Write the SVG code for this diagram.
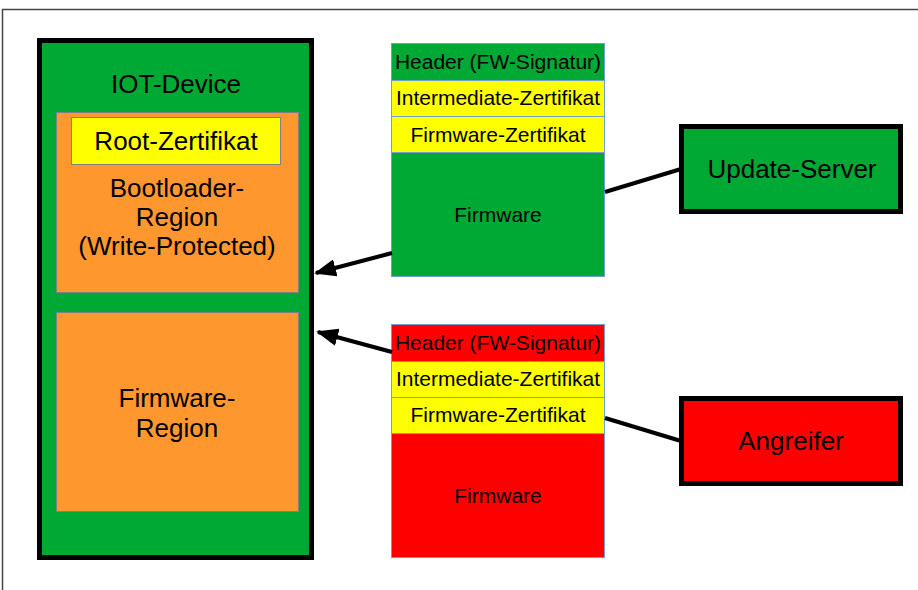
<svg xmlns="http://www.w3.org/2000/svg" width="918" height="590" viewBox="0 0 918 590">
<defs>
<style>
text{font-family:"Liberation Sans",Arial,sans-serif;fill:#000;text-anchor:middle}
.big{font-size:26px}
.mid{font-size:26px}
.sm{font-size:21px}
.frame{fill:none;stroke:#444;stroke-width:1.5}
.dev{fill:#00a933;stroke:#000;stroke-width:5}
.org{fill:#ff972f;stroke:#808080;stroke-width:1}
.yel{fill:#ffff00;stroke:#808080;stroke-width:1}
.cell{stroke:#729fcf;stroke-width:1}
.conn{stroke:#000;stroke-width:4;fill:none}
</style>
<marker id="ah" markerWidth="5.5" markerHeight="4.4" refX="5" refY="2.2" orient="auto" markerUnits="strokeWidth">
<path d="M0,0 L5.5,2.2 L0,4.4 Z" fill="#000"/>
</marker>
</defs>
<rect width="918" height="590" fill="#fff"/>
<path class="frame" d="M2.5,590 V9.5 H918"/>
<g id="iot-device">
<rect class="dev" x="39.5" y="40.5" width="272" height="517"/>
<text class="big" x="176" y="93">IOT-Device</text>
</g>
<g id="bootloader-region">
<rect class="org" x="56.5" y="112.5" width="242" height="180"/>
<text class="big" x="177" y="197">Bootloader-</text>
<text class="big" x="177" y="226">Region</text>
<text class="big" x="177" y="255">(Write-Protected)</text>
</g>
<g id="root-zertifikat">
<rect class="yel" x="71.5" y="117.5" width="209" height="47"/>
<text class="big" x="176" y="150">Root-Zertifikat</text>
</g>
<g id="firmware-region">
<rect class="org" x="56.5" y="312.5" width="242" height="199"/>
<text class="big" x="177" y="407">Firmware-</text>
<text class="big" x="177" y="437">Region</text>
</g>
<g id="firmware-good">
<rect class="cell" fill="#00a933" x="391.5" y="43.5" width="213" height="37"/>
<rect class="cell" fill="#ffff00" x="391.5" y="80.5" width="213" height="36"/>
<rect class="cell" fill="#ffff00" x="391.5" y="116.5" width="213" height="36"/>
<rect class="cell" fill="#00a933" x="391.5" y="152.5" width="213" height="124"/>
<text class="sm" x="498" y="69">Header (FW-Signatur)</text>
<text class="sm" x="498" y="105">Intermediate-Zertifikat</text>
<text class="sm" x="498" y="142">Firmware-Zertifikat</text>
<text class="sm" x="498" y="222">Firmware</text>
</g>
<g id="firmware-bad">
<rect class="cell" fill="#ff0000" x="391.5" y="324.5" width="213" height="37"/>
<rect class="cell" fill="#ffff00" x="391.5" y="361.5" width="213" height="36"/>
<rect class="cell" fill="#ffff00" x="391.5" y="397.5" width="213" height="36"/>
<rect class="cell" fill="#ff0000" x="391.5" y="433.5" width="213" height="124"/>
<text class="sm" x="498" y="350">Header (FW-Signatur)</text>
<text class="sm" x="498" y="386">Intermediate-Zertifikat</text>
<text class="sm" x="498" y="422">Firmware-Zertifikat</text>
<text class="sm" x="498" y="503">Firmware</text>
</g>
<g id="update-server">
<rect class="dev" x="681.5" y="126.5" width="219" height="85"/>
<text class="mid" x="792" y="178">Update-Server</text>
</g>
<g id="angreifer">
<rect fill="#ff0000" stroke="#000" stroke-width="5" x="681.5" y="398.5" width="219" height="85"/>
<text class="mid" x="791" y="450">Angreifer</text>
</g>
<g id="connectors">
<line class="conn" x1="392" y1="253" x2="316" y2="273" marker-end="url(#ah)"/>
<line class="conn" x1="392" y1="352" x2="318" y2="332" marker-end="url(#ah)"/>
<line class="conn" x1="605" y1="192" x2="681" y2="169"/>
<line class="conn" x1="605" y1="418" x2="681" y2="441"/>
</g>
</svg>
